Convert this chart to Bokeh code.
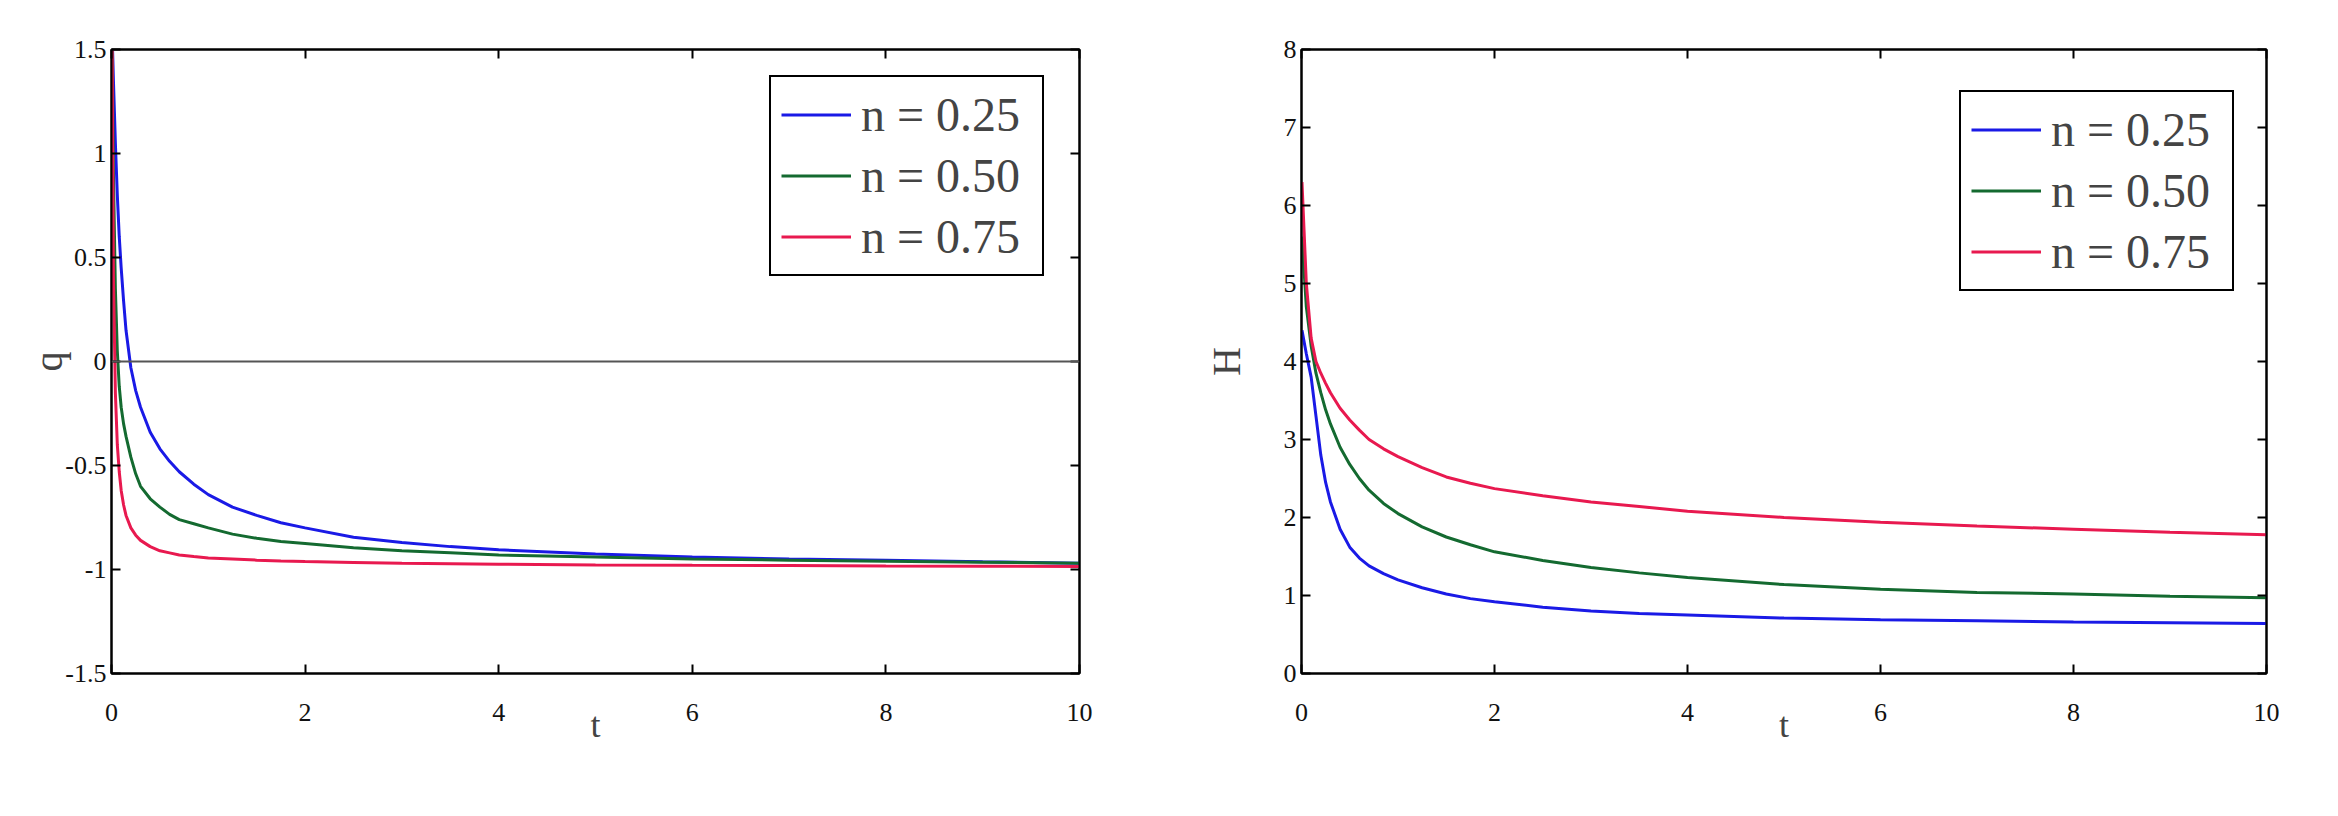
from bokeh.plotting import figure
from bokeh.layouts import row
from bokeh.models import LinearAxis, Span, Legend, LegendItem, FixedTicker, Range1d
from bokeh.embed import file_html
from bokeh.resources import INLINE

# ---------------- data ----------------
labels = ["n = 0.25", "n = 0.50", "n = 0.75"]
colors = ["#1a1ae6", "#146a30", "#e8194f"]

t_q = [0.005, 0.02, 0.04, 0.06, 0.08, 0.1, 0.125, 0.15, 0.2, 0.25, 0.3, 0.4, 0.5, 0.6, 0.7, 0.85,
       1.0, 1.25, 1.5, 1.75, 2, 2.5, 3, 3.5, 4, 5, 6, 7, 8, 9, 10]
q_025 = [1.6, 1.35, 1.05, 0.8, 0.6, 0.45, 0.29, 0.15, -0.03, -0.14, -0.22, -0.34, -0.42, -0.48, -0.53, -0.59,
         -0.64, -0.7, -0.74, -0.775, -0.8, -0.845, -0.87, -0.89, -0.905, -0.925, -0.94, -0.95, -0.955, -0.963, -0.97]
q_050 = [1.6, 0.9, 0.35, 0.05, -0.12, -0.22, -0.3, -0.36, -0.46, -0.54, -0.6, -0.66, -0.7, -0.735, -0.76, -0.78,
         -0.8, -0.83, -0.85, -0.865, -0.875, -0.895, -0.91, -0.92, -0.93, -0.94, -0.95, -0.955, -0.96, -0.965, -0.97]
q_075 = [1.6, 0.4, -0.15, -0.4, -0.53, -0.62, -0.69, -0.74, -0.8, -0.835, -0.86, -0.89, -0.91, -0.92, -0.93, -0.938,
         -0.945, -0.95, -0.955, -0.959, -0.962, -0.966, -0.97, -0.972, -0.975, -0.978, -0.98, -0.981, -0.983, -0.984, -0.985]

t_H = [0.005, 0.05, 0.1, 0.15, 0.2, 0.25, 0.3, 0.4, 0.5, 0.6, 0.7, 0.85, 1.0, 1.25, 1.5, 1.75, 2, 2.5, 3, 3.5,
       4, 5, 6, 7, 8, 9, 10]
H_025 = [4.4, 4.1, 3.8, 3.3, 2.8, 2.45, 2.2, 1.85, 1.62, 1.48, 1.38, 1.28, 1.2, 1.1, 1.02, 0.96, 0.92, 0.85, 0.8, 0.77,
         0.75, 0.71, 0.69, 0.675, 0.66, 0.65, 0.64]
H_050 = [5.6, 4.7, 4.2, 3.85, 3.6, 3.38, 3.2, 2.9, 2.68, 2.5, 2.35, 2.18, 2.05, 1.88, 1.75, 1.65, 1.56, 1.45, 1.36, 1.29,
         1.23, 1.14, 1.08, 1.04, 1.02, 0.99, 0.97]
H_075 = [6.3, 5.0, 4.3, 4.0, 3.85, 3.72, 3.6, 3.4, 3.25, 3.12, 3.0, 2.88, 2.78, 2.64, 2.52, 2.44, 2.37, 2.28, 2.2, 2.14,
         2.08, 2.0, 1.94, 1.89, 1.85, 1.81, 1.78]

x_ticks = [0, 2, 4, 6, 8, 10]
x_tick_labels = ["0", "2", "4", "6", "8", "10"]
q_ticks = [-1.5, -1, -0.5, 0, 0.5, 1, 1.5]
q_tick_labels = ["-1.5", "-1", "-0.5", "0", "0.5", "1", "1.5"]
H_ticks = [0, 1, 2, 3, 4, 5, 6, 7, 8]
H_tick_labels = ["0", "1", "2", "3", "4", "5", "6", "7", "8"]

FONT = "Liberation Serif"


def make_fig(width, bl, br, t, ys, yr, yticks, ylabels, ylab, ylab_standoff, legend_xy):
    p = figure(width=width, height=800, output_backend="svg", toolbar_location=None,
               x_range=Range1d(0, 10), y_range=Range1d(*yr),
               min_border_left=bl, min_border_right=br, min_border_top=49, min_border_bottom=127)
    p.grid.visible = False
    p.outline_line_color = "black"
    p.outline_line_width = 2
    p.background_fill_color = "white"
    p.border_fill_color = "white"

    # top and right axes (box with inward ticks, no labels)
    p.add_layout(LinearAxis(), "above")
    p.add_layout(LinearAxis(), "right")

    for ax in p.xaxis:
        ax.ticker = FixedTicker(ticks=x_ticks)
    for ax in p.yaxis:
        ax.ticker = FixedTicker(ticks=yticks)
    p.below[0].major_label_overrides = {float(k): v for k, v in zip(x_ticks, x_tick_labels)}
    p.left[0].major_label_overrides = {float(k): v for k, v in zip(yticks, ylabels)}
    p.above[0].major_label_overrides = {float(k): "" for k in x_ticks}
    p.right[0].major_label_overrides = {float(k): "" for k in yticks}
    for ax in list(p.xaxis) + list(p.yaxis):
        ax.axis_line_color = "black"
        ax.axis_line_width = 2
        ax.major_tick_in = 9
        ax.major_tick_out = 0
        ax.major_tick_line_color = "black"
        ax.major_tick_line_width = 2
        ax.minor_tick_line_color = None
        ax.major_label_text_font = FONT
        ax.major_label_text_font_size = "26px"
        ax.major_label_text_color = "#111111"

    xa = p.below[0]
    xa.major_label_standoff = 30
    xa.axis_label = "t"
    xa.axis_label_text_font = FONT
    xa.axis_label_text_font_size = "36px"
    xa.axis_label_text_font_style = "normal"
    xa.axis_label_standoff = -19

    ya = p.left[0]
    ya.major_label_standoff = 5
    ya.axis_label = ylab
    ya.axis_label_text_font = FONT
    ya.axis_label_text_font_size = "40px"
    ya.axis_label_text_font_style = "normal"
    ya.axis_label_standoff = ylab_standoff

    items = []
    for y, c, lab in zip(ys, colors, labels):
        r = p.line(t, y, line_color=c, line_width=3)
        items.append(LegendItem(label=lab, renderers=[r]))

    leg = Legend(items=items, location=legend_xy,
                 label_text_font=FONT, label_text_font_size="48px",
                 label_height=55, glyph_height=55, glyph_width=70, label_width=171,
                 label_standoff=10, spacing=6, padding=10,
                 border_line_color="black", border_line_width=2, border_line_alpha=1,
                 background_fill_color="white", background_fill_alpha=1)
    p.add_layout(leg, "center")
    return p


p1 = make_fig(1170, 111, 91, t_q, [q_025, q_050, q_075], (-1.5, 1.5),
              q_ticks, q_tick_labels, "q", -9, (658, 397))
p1.add_layout(Span(location=0, dimension="width", line_color="#555555", line_width=2))

p2 = make_fig(1152, 131, 56, t_H, [H_025, H_050, H_075], (0, 8),
              H_ticks, H_tick_labels, "H", 32, (658, 382))

layout = row(p1, p2)
open("out.html", "w").write(file_html(layout, INLINE))
